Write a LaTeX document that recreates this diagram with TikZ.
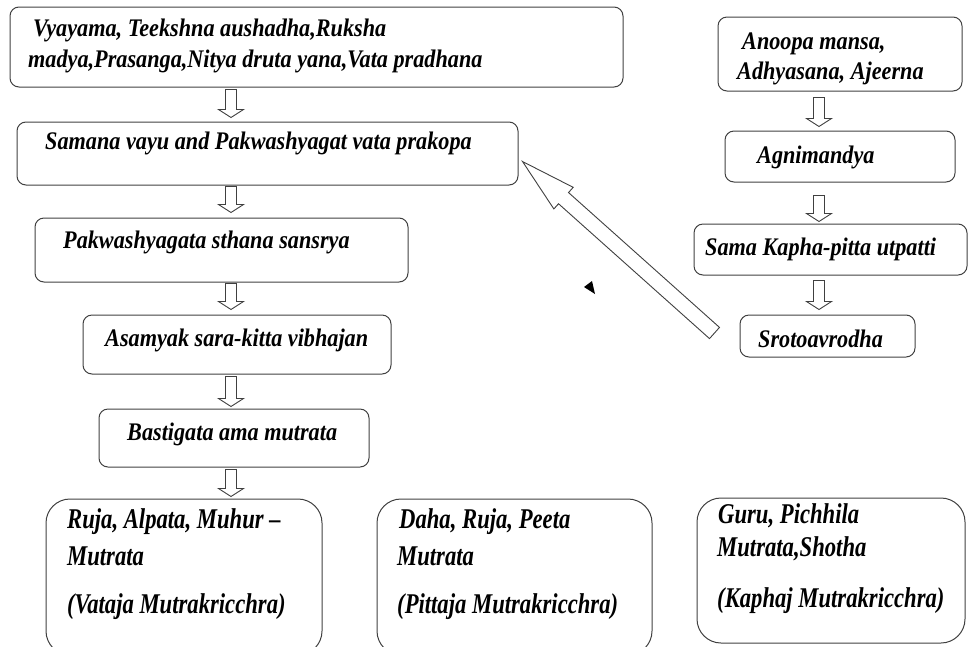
\documentclass[tikz,border=0pt]{standalone}
\usepackage{fontspec}
\usepackage{graphicx}
\setmainfont{Liberation Serif}
\usetikzlibrary{calc}
\tikzset{
  box/.style={draw=black!75, line width=1pt, rounded corners=9pt, inner sep=0pt},
  bigbox/.style={box, rounded corners=24pt},
  txt/.style={anchor=west, inner sep=0pt, font=\fontsize{22}{26}\selectfont\bfseries\itshape},
  arrowline/.style={draw=black!75, line width=0.9pt, line join=miter, fill=white},
}
\newcommand\tall[1]{\scalebox{1.01}[1.15]{#1}}
\newcommand\taller[1]{\scalebox{1.03}[1.3]{#1}}
% #1 start, #2 tip, #3 shaft half width, #4 head half width, #5 head length
\newcommand\blockarr[5]{%
  \path #1 coordinate (ba-s);
  \path #2 coordinate (ba-t);
  \path ($(ba-t)!#5!(ba-s)$) coordinate (ba-c);
  \draw[arrowline] ($(ba-s)!#3!90:(ba-t)$) -- ($(ba-c)!#3!-90:(ba-s)$) -- ($(ba-c)!#4!-90:(ba-s)$) -- (ba-t) -- ($(ba-c)!#4!90:(ba-s)$) -- ($(ba-c)!#3!90:(ba-s)$) -- ($(ba-s)!#3!-90:(ba-t)$) -- cycle;
}
\newcommand\varr[2]{\blockarr{#1}{#2}{5.5pt}{12.5pt}{8pt}}
\begin{document}
\begin{tikzpicture}[x=1pt,y=-1pt]
\clip (0,0) rectangle (968,646);
\coordinate (colL) at (231,0);
\coordinate (colR) at (819,0);
% left column boxes
\node[box, minimum width=613pt, minimum height=80pt] (b1) at (316.5,47) {};
\node[box, minimum width=501pt, minimum height=63pt] (b2) at (267.5,153.5) {};
\node[box, minimum width=373pt, minimum height=64pt] (b3) at (221.5,250) {};
\node[box, minimum width=308pt, minimum height=59pt] (b4) at (237,344.5) {};
\node[box, minimum width=270pt, minimum height=58pt] (b5) at (234,438) {};
% right column boxes
\node[box, minimum width=244pt, minimum height=74pt] (bA) at (840,54) {};
\node[box, minimum width=230pt, minimum height=51pt] (bB) at (840,156.5) {};
\node[box, minimum width=273pt, minimum height=51pt] (bC) at (830.5,249.5) {};
\node[box, minimum width=175pt, minimum height=42pt] (bD) at (827.5,336) {};
% bottom boxes
\node[bigbox, minimum width=276pt, minimum height=156pt] (b6) at (184,577) {};
\node[bigbox, minimum width=275pt, minimum height=156pt] (b7) at (514.5,577) {};
\node[bigbox, minimum width=268pt, minimum height=145pt] (b8) at (831,570.5) {};
% texts
\node[txt] (t1a) at (33,30) {\tall{Vyayama, Teekshna aushadha,Ruksha}};
\node[txt] (t1b) at (28,61) {\tall{madya,Prasanga,Nitya druta yana,Vata pradhana}};
\node[txt] (t2) at (45,143) {\tall{Samana vayu and Pakwashyagat vata prakopa}};
\node[txt] (t3) at (63,242) {\tall{Pakwashyagata sthana sansrya}};
\node[txt] (t4) at (105,340) {\tall{Asamyak sara-kitta vibhajan}};
\node[txt] (t5) at (127,434) {\tall{Bastigata ama mutrata}};
\node[txt] (tAa) at (742,44) {\tall{Anoopa mansa,}};
\node[txt] (tAb) at (737,73) {\tall{Adhyasana, Ajeerna}};
\node[txt] (tB) at (757,157) {\tall{Agnimandya}};
\node[txt] (tC) at (705,249) {\tall{Sama Kapha-pitta utpatti}};
\node[txt] (tD) at (758,339) {\tall{Srotoavrodha}};
\node[txt] (t6a) at (67,522) {\taller{Ruja, Alpata, Muhur --}};
\node[txt] (t6b) at (67,556) {\taller{Mutrata}};
\node[txt] (t6c) at (67,607) {\taller{(Vataja Mutrakricchra)}};
\node[txt] (t7a) at (399,522) {\taller{Daha, Ruja, Peeta}};
\node[txt] (t7b) at (397,556) {\taller{Mutrata}};
\node[txt] (t7c) at (397,607) {\taller{(Pittaja Mutrakricchra)}};
\node[txt] (t8a) at (718,516) {\taller{Guru, Pichhila}};
\node[txt] (t8b) at (717,549) {\taller{Mutrata,Shotha}};
\node[txt] (t8c) at (717,601) {\taller{(Kaphaj Mutrakricchra)}};
% left column arrows
\varr{($(b1.south -| colL)+(0,2)$)}{($(b2.north -| colL)+(0,-4)$)}
\varr{($(b2.south -| colL)+(0,1)$)}{($(b3.north -| colL)+(0,-5)$)}
\varr{($(b3.south -| colL)+(0,1)$)}{($(b4.north -| colL)+(0,-5)$)}
\varr{($(b4.south -| colL)+(0,2)$)}{($(b5.north -| colL)+(0,-2)$)}
\varr{($(b5.south -| colL)+(0,2)$)}{($(b6.north -| colL)+(0,-2)$)}
% right column arrows
\varr{($(bA.south -| colR)+(0,6)$)}{($(bB.north -| colR)+(0,-4)$)}
\varr{($(bB.south -| colR)+(0,13)$)}{($(bC.north -| colR)+(0,-2)$)}
\varr{($(bC.south -| colR)+(0,5)$)}{($(bD.north -| colR)+(0,-5)$)}
% diagonal arrow
\blockarr{($(bD.west)+(-25,-3)$)}{($(b2.east)+(4,8)$)}{7.5pt}{14.5pt}{55pt}
% stray marker
\fill (584,287) -- (592,281) -- (595,294) -- cycle;
\end{tikzpicture}
\end{document}
